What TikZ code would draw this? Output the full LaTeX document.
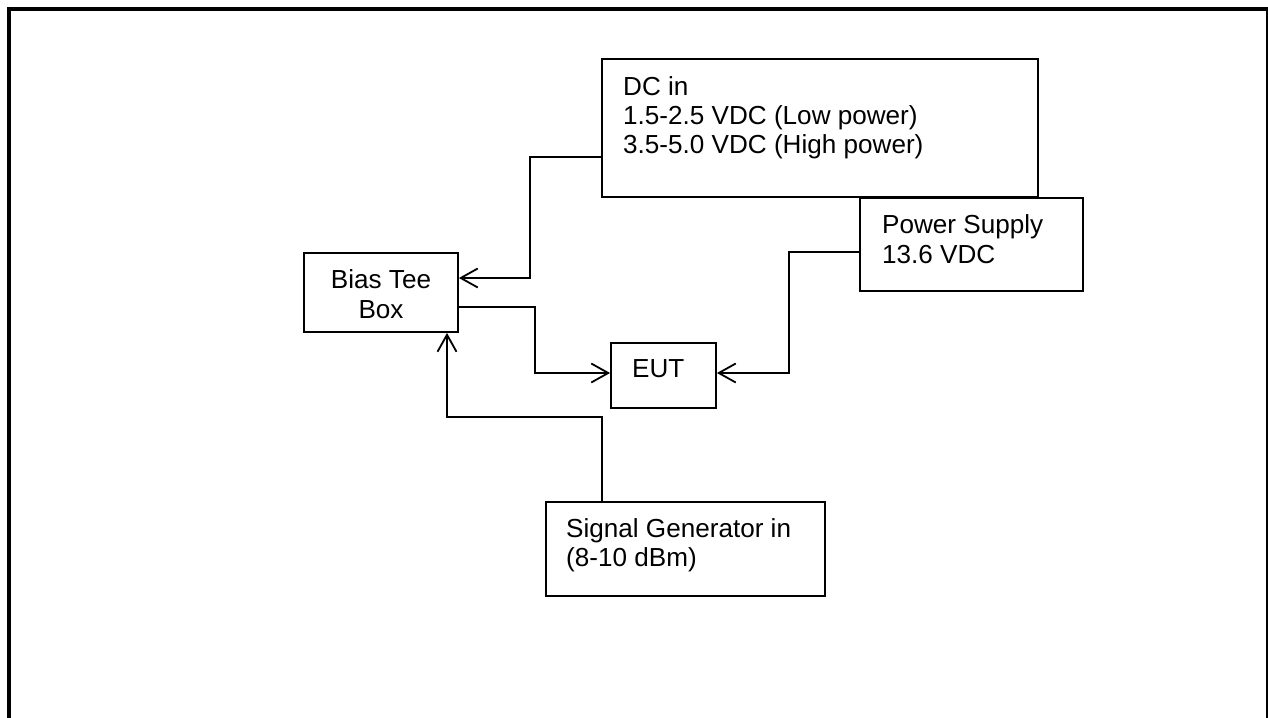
\documentclass[tikz,border=0pt]{standalone}
\usepackage{fontspec}
\setmainfont{Liberation Sans}
\usetikzlibrary{arrows.meta}
\begin{document}
\begin{tikzpicture}[x=1pt,y=-1pt,
  boxline/.style={draw=black,line width=1.8pt},
  txt/.style={anchor=base west,inner sep=0pt,font=\fontsize{26.1}{29.5}\selectfont},
  ctxt/.style={anchor=base,inner sep=0pt,font=\fontsize{26.1}{29.5}\selectfont},
  conn/.style={draw=black,line width=1.8pt,-{Straight Barb[length=17pt,width=19pt]}},
  frameline/.style={draw=black,line width=4.5pt}]
\clip (0,0) rectangle (1268,717);
\fill[white] (0,0) rectangle (1268,717);
\draw[frameline] (9,9) rectangle (1268,760);
% boxes
\node[boxline,inner sep=0pt,minimum width=436pt,minimum height=138pt] (dc) at (820,128) {};
\node[boxline,inner sep=0pt,minimum width=223pt,minimum height=93pt] (ps) at (971.5,244.5) {};
\node[boxline,inner sep=0pt,minimum width=154pt,minimum height=79pt] (bt) at (381,292.5) {};
\node[boxline,inner sep=0pt,minimum width=105pt,minimum height=65pt] (eut) at (663.5,375.5) {};
\node[boxline,inner sep=0pt,minimum width=279pt,minimum height=94pt] (sg) at (685.5,549) {};
% texts
\node[txt] (dc1) at (623,95) {DC in};
\node[txt] (dc2) at (623,124) {1.5-2.5 VDC (Low power)};
\node[txt] (dc3) at (623,153) {3.5-5.0 VDC (High power)};
\node[txt] (ps1) at (882,233) {Power Supply};
\node[txt] (ps2) at (882,263) {13.6 VDC};
\node[ctxt] (bt1) at (381,288) {Bias Tee};
\node[ctxt] (bt2) at (381,318) {Box};
\node[txt] (eut1) at (632,377) {EUT};
\node[txt] (sg1) at (566,537) {Signal Generator in};
\node[txt] (sg2) at (566,566) {(8-10 dBm)};
% connectors
\coordinate (a1) at (dc.west |- 0,157);
\coordinate (a2) at (bt.east |- 0,278);
\draw[conn] (a1) -| (530,278) -- (a2);
\coordinate (b1) at (bt.east |- 0,307);
\coordinate (b2) at (eut.west |- 0,373);
\draw[conn] (b1) -| (535,373) -- (b2);
\coordinate (c1) at (ps.west |- 0,252);
\coordinate (c2) at (eut.east |- 0,373);
\draw[conn] (c1) -| (789,373) -- (c2);
\coordinate (d1) at (sg.north -| 602,0);
\coordinate (d2) at (bt.south -| 447,0);
\draw[conn] (d1) |- (447,417) -- (d2);
\end{tikzpicture}
\end{document}
